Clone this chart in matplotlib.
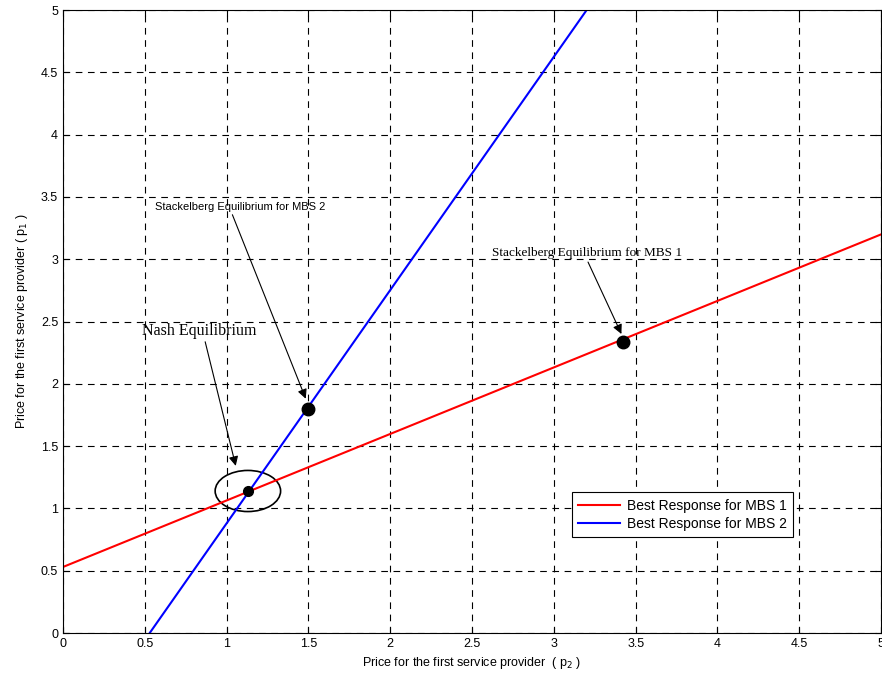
import matplotlib
matplotlib.use("Agg")
import matplotlib.pyplot as plt
from matplotlib.patches import Ellipse

plt.rcParams["font.family"] = ["Liberation Sans", "DejaVu Sans"]

# Best-response lines (end points)
br1_x = [0.0, 5.0]
br1_y = [0.53, 3.2]
br2_x = [0.53, 3.2]
br2_y = [0.0, 5.0]

# Equilibrium points
nash = (1.13, 1.14)
stack2 = (1.50, 1.80)
stack1 = (3.42, 2.34)

ticks = [0, 0.5, 1, 1.5, 2, 2.5, 3, 3.5, 4, 4.5, 5]
tick_labels = ["0", "0.5", "1", "1.5", "2", "2.5", "3", "3.5", "4", "4.5", "5"]

fig = plt.figure(figsize=(8.82, 6.75), dpi=100)
ax = fig.add_axes([0.0714, 0.0622, 0.9276, 0.9228])

ax.plot(br1_x, br1_y, color="red", lw=1.5, label="Best Response for MBS 1")
ax.plot(br2_x, br2_y, color="blue", lw=1.5, label="Best Response for MBS 2")

ax.plot(*nash, "o", color="black", ms=7)
ax.plot(*stack2, "o", color="black", ms=9)
ax.plot(*stack1, "o", color="black", ms=9)

ax.add_patch(Ellipse(nash, 0.40, 0.33, fill=False, color="black", lw=1.2))

arrow = dict(arrowstyle="-|>", color="black", lw=0.8, mutation_scale=14)
ax.annotate("Nash Equilibrium", xy=(1.06, 1.32), xytext=(0.48, 2.36),
            family=["Liberation Serif"], fontsize=11.5, ha="left", va="bottom",
            arrowprops=dict(arrow, shrinkA=0, relpos=(0.55, 0.0)))
ax.annotate("Stackelberg Equilibrium for MBS 2", xy=(1.49, 1.86), xytext=(0.56, 3.38),
            fontsize=8, ha="left", va="bottom",
            arrowprops=dict(arrow, shrinkA=0, relpos=(0.45, 0.0)))
ax.annotate("Stackelberg Equilibrium for MBS 1", xy=(3.42, 2.38), xytext=(2.62, 3.0),
            family=["Liberation Serif"], fontsize=9.5, ha="left", va="bottom",
            arrowprops=dict(arrow, shrinkA=0, relpos=(0.5, 0.0)))

ax.set_xlim(0, 5)
ax.set_ylim(0, 5)
ax.set_xticks(ticks)
ax.set_xticklabels(tick_labels)
ax.set_yticks(ticks)
ax.set_yticklabels(tick_labels)
ax.tick_params(direction="in", top=True, right=True, labelsize=9, length=4)
ax.grid(True, color="black", linestyle=(0, (6, 5)), lw=0.8)

ax.set_xlabel("Price for the first service provider  ( p$_2$ )", fontsize=9, labelpad=4)
ax.set_ylabel("Price for the first service provider ( p$_1$ )", fontsize=9, labelpad=8)

leg = ax.legend(loc="lower left", bbox_to_anchor=(0.622, 0.154), fontsize=10,
                fancybox=False, framealpha=1, edgecolor="black",
                handlelength=3.0, handletextpad=0.5, borderpad=0.45,
                labelspacing=0.3, borderaxespad=0.0)
leg.get_frame().set_linewidth(0.8)

fig.savefig("out.png", dpi=100)
